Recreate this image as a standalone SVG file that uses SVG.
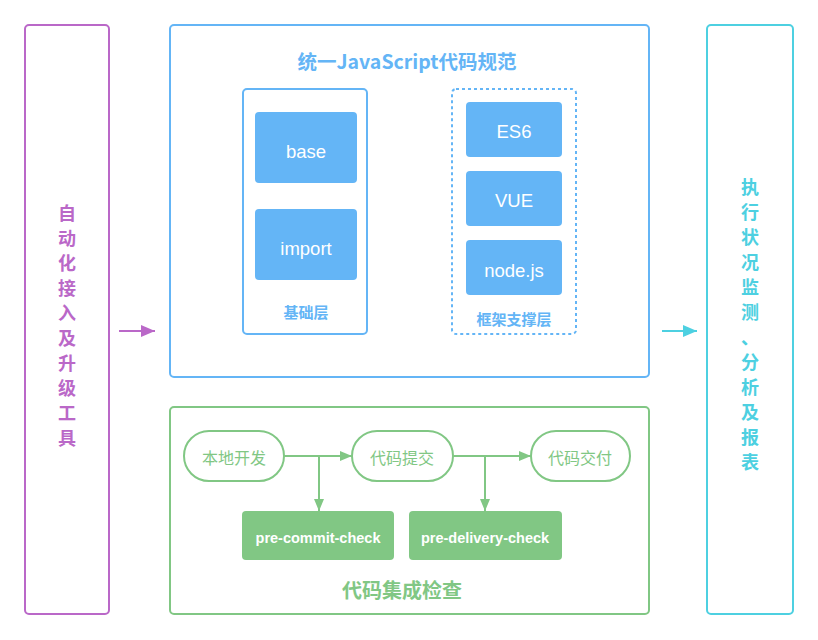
<svg xmlns="http://www.w3.org/2000/svg" width="818" height="640" viewBox="0 0 818 640">
<style>
text{font-family:"Noto Sans CJK SC","Liberation Sans",sans-serif;text-anchor:middle;dominant-baseline:central}
.blue{fill:none;stroke:#64B5F6;stroke-width:2}
.bfill{fill:#64B5F6}
.wt{fill:#fff;font-size:18.5px;font-family:"Liberation Sans","Noto Sans CJK SC",sans-serif}
.bl{fill:#64B5F6;font-size:15px;font-weight:bold}
.pill{fill:#fff;stroke:#81C784;stroke-width:2}
.gt{fill:#81C784;font-size:16px}
.gbox{fill:#81C784}
.gw{fill:#fff;font-size:14.5px;font-weight:bold;font-family:"Liberation Sans",sans-serif}
.gl{fill:none;stroke:#81C784;stroke-width:2}
.vp{fill:#BA68C8;font-size:18px;font-weight:bold}
.vc{fill:#4DD0E1;font-size:18px;font-weight:bold}
</style>
<defs>
<marker id="ag" markerWidth="12" markerHeight="10" refX="12" refY="5" orient="auto" markerUnits="userSpaceOnUse"><path d="M0,0L12,5L0,10Z" fill="#81C784"/></marker>
<marker id="ap" markerWidth="14" markerHeight="12" refX="14" refY="6" orient="auto" markerUnits="userSpaceOnUse"><path d="M0,0L14,6L0,12Z" fill="#BA68C8"/></marker>
<marker id="ac" markerWidth="14" markerHeight="12" refX="14" refY="6" orient="auto" markerUnits="userSpaceOnUse"><path d="M0,0L14,6L0,12Z" fill="#4DD0E1"/></marker>
</defs>
<rect width="818" height="640" fill="#fff"/>

<g id="auto-tool">
<rect x="25" y="25" width="84" height="589" rx="4" fill="#fff" stroke="#BA68C8" stroke-width="2"/>
<text x="67" y="212" class="vp">自</text><text x="67" y="237" class="vp">动</text><text x="67" y="262" class="vp">化</text><text x="67" y="287" class="vp">接</text><text x="67" y="312" class="vp">入</text><text x="67" y="337" class="vp">及</text><text x="67" y="362" class="vp">升</text><text x="67" y="387" class="vp">级</text><text x="67" y="412" class="vp">工</text><text x="67" y="437" class="vp">具</text>
</g>

<g id="js-spec">
<rect x="170" y="25" width="479" height="352" rx="4" fill="#fff" stroke="#64B5F6" stroke-width="2"/>
<text x="407" y="60" fill="#64B5F6" font-size="19.5" font-weight="bold">统一JavaScript代码规范</text>
</g>

<g id="base-layer">
<rect x="243" y="89" width="124" height="245" rx="4" class="blue"/>
<text x="306" y="311" class="bl">基础层</text>
</g>
<g id="base"><rect x="255" y="112" width="102" height="71" rx="4" class="bfill"/><text x="306" y="151" class="wt">base</text></g>
<g id="import"><rect x="255" y="209" width="102" height="71" rx="4" class="bfill"/><text x="306" y="248" class="wt">import</text></g>

<g id="framework-layer">
<rect x="452" y="89" width="124" height="245" rx="4" fill="none" stroke="#64B5F6" stroke-width="2" stroke-dasharray="3,3"/>
<text x="514" y="318" class="bl">框架支撑层</text>
</g>
<g id="es6"><rect x="466" y="102" width="96" height="55" rx="4" class="bfill"/><text x="514" y="131" class="wt">ES6</text></g>
<g id="vue"><rect x="466" y="171" width="96" height="55" rx="4" class="bfill"/><text x="514" y="200" class="wt">VUE</text></g>
<g id="nodejs"><rect x="466" y="240" width="96" height="55" rx="4" class="bfill"/><text x="514" y="270" class="wt">node.js</text></g>

<g id="ci-check">
<rect x="170" y="407" width="479" height="207" rx="4" fill="#fff" stroke="#81C784" stroke-width="2"/>
<text x="402" y="589" fill="#81C784" font-size="20" font-weight="bold">代码集成检查</text>
</g>
<g id="local-dev"><rect x="184" y="431" width="100" height="50" rx="25" class="pill"/><text x="234" y="457" class="gt">本地开发</text></g>
<g id="commit"><rect x="352" y="431" width="101" height="50" rx="25" class="pill"/><text x="402" y="457" class="gt">代码提交</text></g>
<g id="deliver"><rect x="531" y="431" width="99" height="50" rx="25" class="pill"/><text x="580" y="457" class="gt">代码交付</text></g>
<g id="pre-commit"><rect x="242" y="511" width="152" height="49" rx="4" class="gbox"/><text x="318" y="538" class="gw">pre-commit-check</text></g>
<g id="pre-delivery"><rect x="409" y="511" width="153" height="49" rx="4" class="gbox"/><text x="485" y="538" class="gw">pre-delivery-check</text></g>

<g id="monitor">
<rect x="707" y="25" width="86" height="589" rx="4" fill="#fff" stroke="#4DD0E1" stroke-width="2"/>
<text x="750" y="186" class="vc">执</text><text x="750" y="211" class="vc">行</text><text x="750" y="236" class="vc">状</text><text x="750" y="261" class="vc">况</text><text x="750" y="286" class="vc">监</text><text x="750" y="311" class="vc">测</text><text x="750" y="336" class="vc">、</text><text x="750" y="361" class="vc">分</text><text x="750" y="386" class="vc">析</text><text x="750" y="411" class="vc">及</text><text x="750" y="436" class="vc">报</text><text x="750" y="461" class="vc">表</text>
</g>

<g id="connectors">
<line x1="119" y1="331" x2="155" y2="331" stroke="#BA68C8" stroke-width="2" marker-end="url(#ap)"/>
<line x1="662" y1="331" x2="697" y2="331" stroke="#4DD0E1" stroke-width="2" marker-end="url(#ac)"/>
<line x1="284" y1="456" x2="352" y2="456" class="gl" marker-end="url(#ag)"/>
<line x1="319" y1="456" x2="319" y2="511" class="gl" marker-end="url(#ag)"/>
<line x1="453" y1="456" x2="531" y2="456" class="gl" marker-end="url(#ag)"/>
<line x1="485" y1="456" x2="485" y2="511" class="gl" marker-end="url(#ag)"/>
</g>
</svg>
